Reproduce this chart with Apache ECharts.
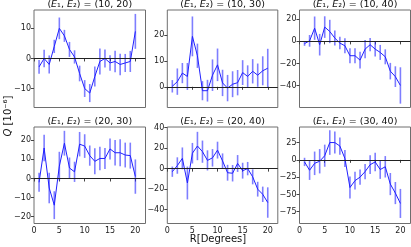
<!DOCTYPE html>
<html><head><meta charset="utf-8">
<script src="https://cdn.jsdelivr.net/npm/echarts@6/dist/echarts.min.js"></script>
<style>html,body{margin:0;padding:0;background:#fff}#c{width:411px;height:247px}</style>
</head><body><div id="c"></div>
<script>
const R = [1,2,3,4,5,6,7,8,9,10,11,12,13,14,15,16,17,18,19,20];
const xTicks = [0,5,10,15,20];
const titles = [['10','20'],['10','30'],['10','40'],['20','30'],['20','40'],['30','40']];

const v1 = [-2.8,0,-2,4,10,7.5,3,0.5,-5,-10,-11.5,-6,-1,0,-1.5,-1,-2,-1.5,-1,9];
const e1 = [2.3,2.9,3,2.2,3.6,2,2.5,2.2,2.6,2.8,3,3.3,4.3,3,2.6,3.6,3.6,3,3.5,5.8];
const v2 = [0.2,2,5.3,4,19.5,12,-1.5,-1.5,4.5,8.5,1.5,-0.5,1,1.6,5.5,4,6,4.5,6.2,7.2];
const e2 = [2.4,5.1,3.9,5.2,7.7,4.7,3.7,4.2,6.1,6.3,5.1,5.1,5,4.9,4.8,4.3,4.7,4.5,5.6,7.5];
const v3 = [-2,0.5,12,-3,13,9,3,-1.5,-4,-13,-13,-17,-7,-3,-7,-10,-14,-27,-32,-40];
const e3 = [2,5.3,10.6,9.8,9.8,10.6,6.8,5.7,6.8,6.8,6.8,7.5,8.3,6,6.8,6.8,6.8,7.5,9.4,16.5];
const v4 = [-2,16,-5,-14,6.5,18.5,5.5,3.5,18,17,12,9,10.5,10.5,15.5,13.5,13.5,12.3,12,1];
const e4 = [5,7,8,7.3,7.5,6.5,5.5,5.3,6.4,6.2,5.3,6.8,6.2,5.5,5.5,6.7,7.1,6.5,6.8,9];
const v5 = [-3,3,10,-14,15,22,16.5,8,10.5,18,7.5,-4,-4.5,5,-2,0,-8,-20,-25,-33];
const e5 = [5,8,10.6,16,10,13.8,10.8,9.8,8.5,8.2,7.3,7.7,8,8.2,7.7,6.5,7.3,7.2,7.5,14.8];
const v6 = [-3,-15,-5,-2,6,25,25,20,2,-40,-30,-25,-17,-7,-3,-14,-10,-35,-48,-63];
const e6 = [6,14,17,17.6,16,17.8,15.9,12.5,12.2,16,12.7,11,11,13.5,13.4,13.5,15.5,16,16,21];

const yTicks = [[-10,0,10],[0,10,20],[-40,-20,0,20],[-20,-10,0,10,20],[-40,-20,0,20,40],[-75,-50,-25,0,25]];
const yRange = [[-16.3,16.1],[-8,29.7],[-60,28.5],[-23.6,27],[-53.4,40.5],[-92,47.5]];

const vals = [v1,v2,v3,v4,v5,v6];
const errs = [e1,e2,e3,e4,e5,e6];

const cols = [[34,111.5],[167.3,110.5],[299.5,111]];
const rows = [[10,97.5],[127,96.5]];

const chart = echarts.init(document.getElementById('c'), null, {renderer:'canvas'});
const FONT = 'DejaVu Sans';
const grids=[], xAxes=[], yAxes=[], series=[], graphics=[];
const minus = v => String(v).replace('-', '\u2212');
for (let i=0;i<6;i++){
  const c = cols[i%3], r = rows[Math.floor(i/3)];
  grids.push({left:c[0], top:r[0], width:c[1], height:r[1], show:true, borderColor:'#6e6e6e', borderWidth:1, backgroundColor:'rgba(0,0,0,0)'});
  xAxes.push({type:'value', gridIndex:i, min:0, max:22,
    axisLine:{show:false}, splitLine:{show:false},
    axisTick:{show:true, length:3, lineStyle:{color:'#444'}, customValues:xTicks},
    axisLabel:{show: i>=3, fontSize:8, color:'#222', fontFamily:FONT, margin:3, customValues:xTicks}});
  yAxes.push({type:'value', gridIndex:i, min:yRange[i][0], max:yRange[i][1],
    axisLine:{show:false}, splitLine:{show:false},
    axisTick:{show:true, length:3, lineStyle:{color:'#444'}, customValues:yTicks[i]},
    axisLabel:{fontSize:8, color:'#222', fontFamily:FONT, margin:3, customValues:yTicks[i], formatter:minus}});
  const ebData = R.map((x,k)=>[x, vals[i][k]-errs[i][k], vals[i][k]+errs[i][k]]);
  series.push({type:'custom', xAxisIndex:i, yAxisIndex:i, data:ebData, silent:true, z:2,
    renderItem:(params, api)=>{
      const p1 = api.coord([api.value(0), api.value(1)]);
      const p2 = api.coord([api.value(0), api.value(2)]);
      return {type:'line', shape:{x1:p1[0], y1:p1[1], x2:p2[0], y2:p2[1]},
        style:{stroke:'rgba(40,40,255,0.6)', lineWidth:1.6}};
    }});
  series.push({type:'line', xAxisIndex:i, yAxisIndex:i, data:R.map((x,k)=>[x, vals[i][k]]),
    showSymbol:false, symbol:'none', lineStyle:{color:'#2020ff', width:1}, z:3, silent:true,
    markLine:{silent:true, symbol:['none','none'], label:{show:false},
      lineStyle:{color:'#222', width:1, type:'solid'}, data:[{yAxis:0}], animation:false}});
  graphics.push({type:'text', x:c[0]+c[1]/2, y: r[0]-5, style:{
    text:'(' + '{e|E}\u2081, {e|E}\u2082) = (' + titles[i][0] + ', ' + titles[i][1] + ')',
    rich:{e:{fontStyle:'italic', fontSize:9.5, fontFamily:FONT, fill:'#111'}},
    fontSize:9.5, fontFamily:FONT, fill:'#111', align:'center', verticalAlign:'middle'}});
}
graphics.push({type:'text', x:8, y:116, rotation:Math.PI/2, style:{
  text:'{q|Q} [10\u207B\u2076]', rich:{q:{fontStyle:'italic', fontSize:10, fontFamily:FONT, fill:'#111'}},
  fontSize:10, fontFamily:FONT, fill:'#111', align:'center', verticalAlign:'middle'}});
graphics.push({type:'text', x:218, y:239, style:{text:'R[Degrees]', fontSize:10, fontFamily:FONT, fill:'#111', align:'center', verticalAlign:'middle'}});

chart.setOption({animation:false, grid:grids, xAxis:xAxes, yAxis:yAxes, series:series, graphic:graphics});
</script></body></html>
